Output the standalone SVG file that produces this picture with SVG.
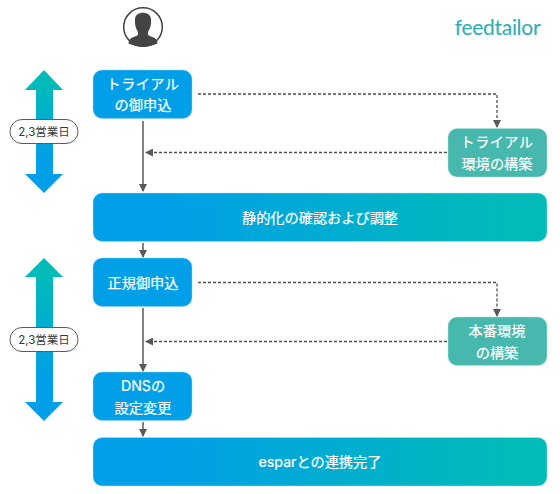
<svg xmlns="http://www.w3.org/2000/svg" width="560" height="494" viewBox="0 0 560 494">
<style>
text{font-family:Inter,"Noto Sans CJK JP",sans-serif;text-anchor:middle}
.w{fill:#fff;stroke:#fff;stroke-width:.2;font-size:14.200px;font-weight:400}
.w2{fill:#fff;stroke:#fff;stroke-width:.2;font-size:14.200px;font-weight:400;letter-spacing:.4px}
.p{fill:#3a3a3c;font-size:11.500px}
.solid{fill:none;stroke:#58595b;stroke-width:1.500}
.dash{fill:none;stroke:#4d4e50;stroke-width:1.300;stroke-dasharray:3 2}
.pill{fill:#fff;stroke:#58595b;stroke-width:1}
.blue{fill:#009fe8;stroke:#8fd3f4;stroke-width:.5}
.teal{fill:#47b8ad;stroke:#b5e3de;stroke-width:.5}
.wide{fill:url(#h);stroke:#b5e3ee;stroke-width:.5}
</style>
<defs>
<linearGradient id="h" x1="0" x2="1" y1="0" y2="0"><stop offset="0.15" stop-color="#009fe8"/><stop offset="0.92" stop-color="#00bbb8"/></linearGradient>
<linearGradient id="v" x1="0" x2="0" y1="0" y2="1"><stop offset="0.1" stop-color="#00bbb8"/><stop offset="0.75" stop-color="#009fe8"/></linearGradient>
<marker id="a" markerUnits="userSpaceOnUse" markerWidth="9" markerHeight="8" refX="7" refY="4" orient="auto"><path d="M0 0L8 4L0 8Z" fill="#58595b"/></marker>
</defs>
<g id="user">
<circle cx="143" cy="27" r="19.300" fill="#fff" stroke="#444" stroke-width="1.500"/>
<path d="M128.500 43.500C129 39 131 37.500 135 36.500C138 35.500 138.500 34 138 32C135.500 28.500 134.500 23 135 19C135.500 15 138.500 12.800 143 12.800C147.500 12.800 150.500 15 151 19C151.500 23 150.500 28.500 148 32C147.500 34 148 35.500 151 36.500C155 37.500 157 39 157.500 43.500C153.500 45.500 148.500 46.500 143 46.500C137.500 46.500 132.500 45.500 128.500 43.500Z" fill="#444"/>
</g>
<g id="logo"><text x="497.500" y="34.500" style="font-family:Lato,'Liberation Sans',sans-serif;font-size:21px;letter-spacing:-.3px;stroke:#2fafb5;stroke-width:.1" fill="#2fafb5">feedtailor</text></g>
<g id="connectors">
<path class="solid" d="M143 121V191" marker-end="url(#a)"/>
<path class="dash" d="M198 94H497V127" marker-end="url(#a)"/>
<path class="dash" d="M447 152.500H146" marker-end="url(#a)"/>
<path class="solid" d="M143 243V257" marker-end="url(#a)"/>
<path class="dash" d="M198 282.500H497V316" marker-end="url(#a)"/>
<path class="dash" d="M447 341.500H146" marker-end="url(#a)"/>
<path class="solid" d="M143 308V371" marker-end="url(#a)"/>
<path class="solid" d="M143 422V436" marker-end="url(#a)"/>
</g>
<g id="span1">
<path d="M44 70L63 90H53V174H63L44 193L25 174H36V90H25Z" fill="url(#v)"/>
<rect class="pill" x="10" y="119.500" width="68" height="24" rx="12"/>
<text class="p" x="44" y="136">2,3営業日</text>
</g>
<g id="span2">
<path d="M44 258L63 277H53V402H63L44 421L25 402H36V277H25Z" fill="url(#v)"/>
<rect class="pill" x="10" y="327.500" width="68" height="24" rx="12"/>
<text class="p" x="44" y="344">2,3営業日</text>
</g>
<g id="n1"><rect class="blue" x="93" y="70" width="99" height="48.500" rx="9"/><text class="w2" x="143" y="89">トライアル</text><text class="w" x="143" y="110">の御申込</text></g>
<g id="n2"><rect class="teal" x="448" y="128.500" width="99" height="48.500" rx="9"/><text class="w2" x="497" y="147">トライアル</text><text class="w" x="497" y="169">環境の構築</text></g>
<g id="n3"><rect class="wide" x="93" y="193" width="454" height="48.500" rx="9"/><text class="w" x="320" y="223">静的化の確認および調整</text></g>
<g id="n4"><rect class="blue" x="93" y="258" width="99" height="48.500" rx="9"/><text class="w" x="143" y="288">正規御申込</text></g>
<g id="n5"><rect class="teal" x="448" y="317" width="99" height="48.500" rx="9"/><text class="w" x="497" y="336">本番環境</text><text class="w" x="497" y="358">の構築</text></g>
<g id="n6"><rect class="blue" x="93" y="372" width="99" height="48.500" rx="9"/><text class="w" x="143" y="391">DNSの</text><text class="w" x="143" y="413">設定変更</text></g>
<g id="n7"><rect class="wide" x="93" y="437.500" width="454" height="48.500" rx="9"/><text class="w" x="320" y="467">esparとの連携完了</text></g>
</svg>
